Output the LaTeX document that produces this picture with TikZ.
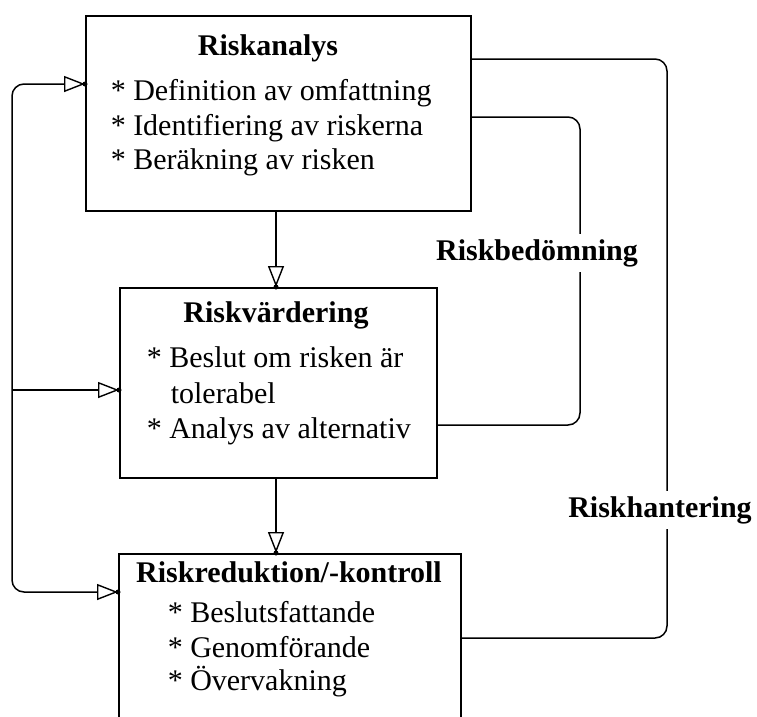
\documentclass[tikz,border=0pt]{standalone}
\usepackage{fontspec}
\setmainfont{Liberation Serif}
\usetikzlibrary{arrows.meta}
\begin{document}
\begin{tikzpicture}[x=1pt,y=-1pt,
  line width=1.5pt,
  box/.style={draw, rectangle, anchor=north west, inner sep=0pt},
  title/.style={anchor=base, inner sep=0pt, font=\fontsize{30}{35}\selectfont\bfseries},
  item/.style={anchor=base west, inner sep=0pt, font=\fontsize{30}{35}\selectfont},
  flowlabel/.style={anchor=base, fill=white, inner sep=5pt, font=\fontsize{30}{35}\selectfont\bfseries},
  tri/.style={-{Triangle[open,length=21pt,width=16pt,line width=1.4pt]}},
  tritwo/.style={{Triangle[open,length=21pt,width=16pt,line width=1.4pt]}-{Triangle[open,length=21pt,width=16pt,line width=1.4pt]}},
  tipdot/.style={fill, circle, inner sep=0pt, minimum size=5pt}]
\useasboundingbox (0,0) rectangle (757,716);
\clip (0,0) rectangle (757,716);

% boxes
\node[box, minimum width=385pt, minimum height=195pt] (b1) at (85,15) {};
\node[box, minimum width=317pt, minimum height=190pt] (b2) at (119,287) {};
\node[box, minimum width=342pt, minimum height=220pt] (b3) at (118,553) {};

% box texts
\node[title] (t1) at (268,55) {Riskanalys};
\node[item] (i11) at (110,100) {* Definition av omfattning};
\node[item] (i12) at (110,135) {* Identifiering av riskerna};
\node[item] (i13) at (110,169) {* Beräkning av risken};

\node[title] (t2) at (276,322) {Riskvärdering};
\node[item] (i21) at (146,367) {* Beslut om risken är};
\node[item] (i22) at (170,403) {tolerabel};
\node[item] (i23) at (146,438) {* Analys av alternativ};

\node[title] (t3) at (289,582) {Riskreduktion/-kontroll};
\node[item] (i31) at (167,622) {* Beslutsfattande};
\node[item] (i32) at (167,657) {* Genomförande};
\node[item] (i33) at (167,690) {* Övervakning};

% connection points on the box edges
\coordinate (b1in) at (85,84);
\coordinate (b2in) at (119,390);
\coordinate (b3in) at (118,592);
\coordinate (b1top) at (470,59);
\coordinate (b1mid) at (470,117);
\coordinate (b2out) at (436,425);
\coordinate (b3out) at (460,638);
\coordinate (leftbus) at (12,390);
\coordinate (innerbus) at (580,260);
\coordinate (outerbus) at (667,517);
\coordinate (d1) at (276,210);
\coordinate (d2) at (276,287);
\coordinate (d3) at (276,477);
\coordinate (d4) at (276,553);

% downward flow
\draw[tri] (d1) -- (d2);
\draw[tri] (d3) -- (d4);

% feedback bus on the left
\draw[tritwo, rounded corners=12pt] (b1in) -| (leftbus) |- (b3in);
\draw[tri] (leftbus) -- (b2in);

% dots at the arrow tips
\foreach \p/\n in {b1in/p1, b2in/p2, b3in/p3, d2/p4, d4/p5}
  \node[tipdot] (\n) at (\p) {};

% assessment and management loops on the right
\draw[rounded corners=12pt] (b1mid) -| (innerbus) |- (b2out);
\draw[rounded corners=12pt] (b1top) -| (outerbus) |- (b3out);
\node[flowlabel] (lb) at (537,260) {Riskbedömning};
\node[flowlabel] (lh) at (660,517) {Riskhantering};
\end{tikzpicture}
\end{document}
